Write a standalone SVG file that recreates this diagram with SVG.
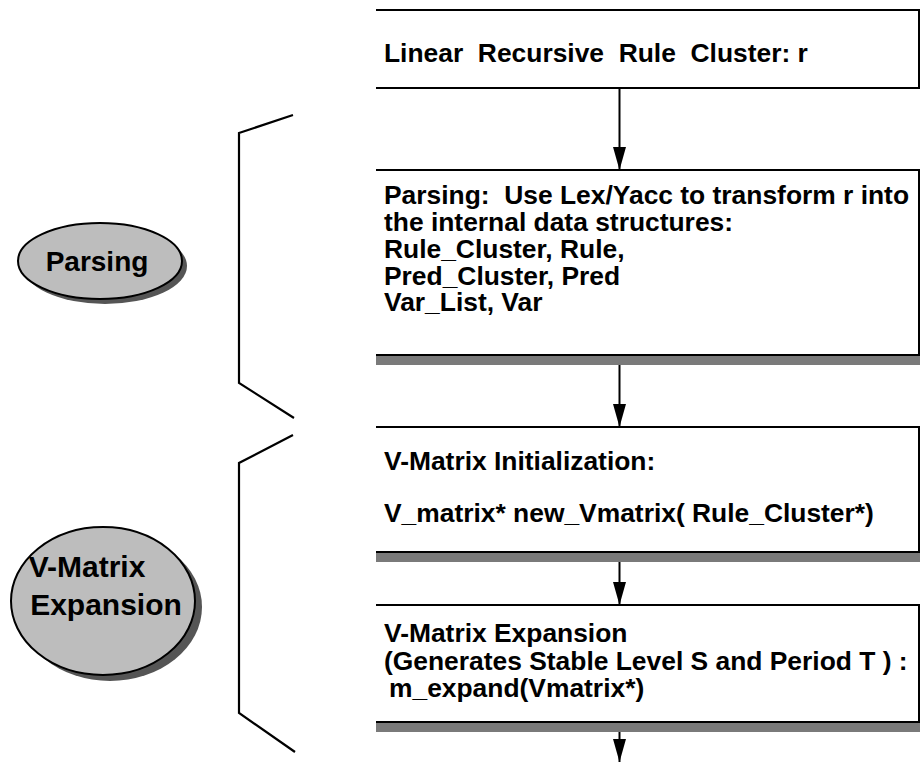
<svg xmlns="http://www.w3.org/2000/svg" width="920" height="763" viewBox="0 0 920 763">
  <style>
    .box { fill: #ffffff; stroke: #000000; stroke-width: 2; }
    .shadow { fill: #7a7a7a; stroke: none; }
    .txt { font-family: "Liberation Sans", Arial, sans-serif; font-weight: bold; font-size: 26.4px; fill: #000000; }
    .etxt { font-family: "Liberation Sans", Arial, sans-serif; font-weight: bold; fill: #000000; text-anchor: middle; }
    .oval { fill: #bdbdbd; stroke: #000000; stroke-width: 2; }
    .oshadow { fill: #555555; stroke: none; }
    .bracket { fill: none; stroke: #000000; stroke-width: 2.2; stroke-linejoin: miter; }
    .flow { fill: none; stroke: #000000; stroke-width: 2; }
  </style>
  <defs>
    <marker id="head" viewBox="0 0 23 13" refX="23" refY="6.5" markerWidth="23" markerHeight="13" markerUnits="userSpaceOnUse" orient="auto">
      <path d="M0,0 L23,6.5 L0,13 Z" fill="#000000"/>
    </marker>
  </defs>

  <rect width="920" height="763" fill="#ffffff"/>

  <!-- stage labels -->
  <g id="stage-parsing">
    <ellipse class="oshadow" cx="105" cy="266" rx="82" ry="38"/>
    <ellipse class="oval" cx="100" cy="261" rx="82" ry="38"/>
    <text class="etxt" x="97" y="271" font-size="28">Parsing</text>
  </g>
  <g id="stage-expansion">
    <ellipse class="oshadow" cx="110" cy="607" rx="92" ry="74"/>
    <ellipse class="oval" cx="103" cy="601" rx="92" ry="74"/>
    <text class="etxt" x="87" y="577" font-size="30">V-Matrix</text>
    <text class="etxt" x="106" y="615" font-size="30">Expansion</text>
  </g>

  <!-- braces grouping the steps -->
  <g id="brace-parsing">
    <path class="bracket" d="M293,115 L239,133 L239,383 L294,418"/>
  </g>
  <g id="brace-expansion">
    <path class="bracket" d="M293,435 L239,463 L239,713 L295,752"/>
  </g>

  <!-- process steps -->
  <g id="step-cluster">
    <path class="box" d="M376,10 L919,10 L919,88 L376,88"/>
    <text class="txt" x="384" y="62" xml:space="preserve">Linear  Recursive  Rule  Cluster: r</text>
  </g>
  <g id="step-parse">
    <rect class="shadow" x="376" y="355" width="544" height="10"/>
    <path class="box" d="M376,170 L919,170 L919,355 L376,355"/>
    <text class="txt" x="384" y="204" xml:space="preserve">Parsing:  Use Lex/Yacc to transform r into</text>
    <text class="txt" x="384" y="231">the internal data structures:</text>
    <text class="txt" x="384" y="258">Rule_Cluster, Rule,</text>
    <text class="txt" x="384" y="285">Pred_Cluster, Pred</text>
    <text class="txt" x="384" y="311">Var_List, Var</text>
  </g>
  <g id="step-init">
    <rect class="shadow" x="376" y="552" width="544" height="10"/>
    <path class="box" d="M376,427 L919,427 L919,552 L376,552"/>
    <text class="txt" x="384" y="470">V-Matrix Initialization:</text>
    <text class="txt" x="384" y="522">V_matrix* new_Vmatrix( Rule_Cluster*)</text>
  </g>
  <g id="step-expand">
    <rect class="shadow" x="376" y="722" width="544" height="10"/>
    <path class="box" d="M376,605 L919,605 L919,722 L376,722"/>
    <text class="txt" x="384" y="642">V-Matrix Expansion</text>
    <text class="txt" x="384" y="670">(Generates Stable Level S and Period T ) :</text>
    <text class="txt" x="389" y="697">m_expand(Vmatrix*)</text>
  </g>

  <!-- connectors -->
  <g id="connectors">
    <line class="flow" x1="619.5" y1="89" x2="619.5" y2="170" marker-end="url(#head)"/>
    <line class="flow" x1="619.5" y1="365" x2="619.5" y2="427" marker-end="url(#head)"/>
    <line class="flow" x1="619.5" y1="562" x2="619.5" y2="605" marker-end="url(#head)"/>
    <line class="flow" x1="619.5" y1="732" x2="619.5" y2="762" marker-end="url(#head)"/>
  </g>
</svg>
